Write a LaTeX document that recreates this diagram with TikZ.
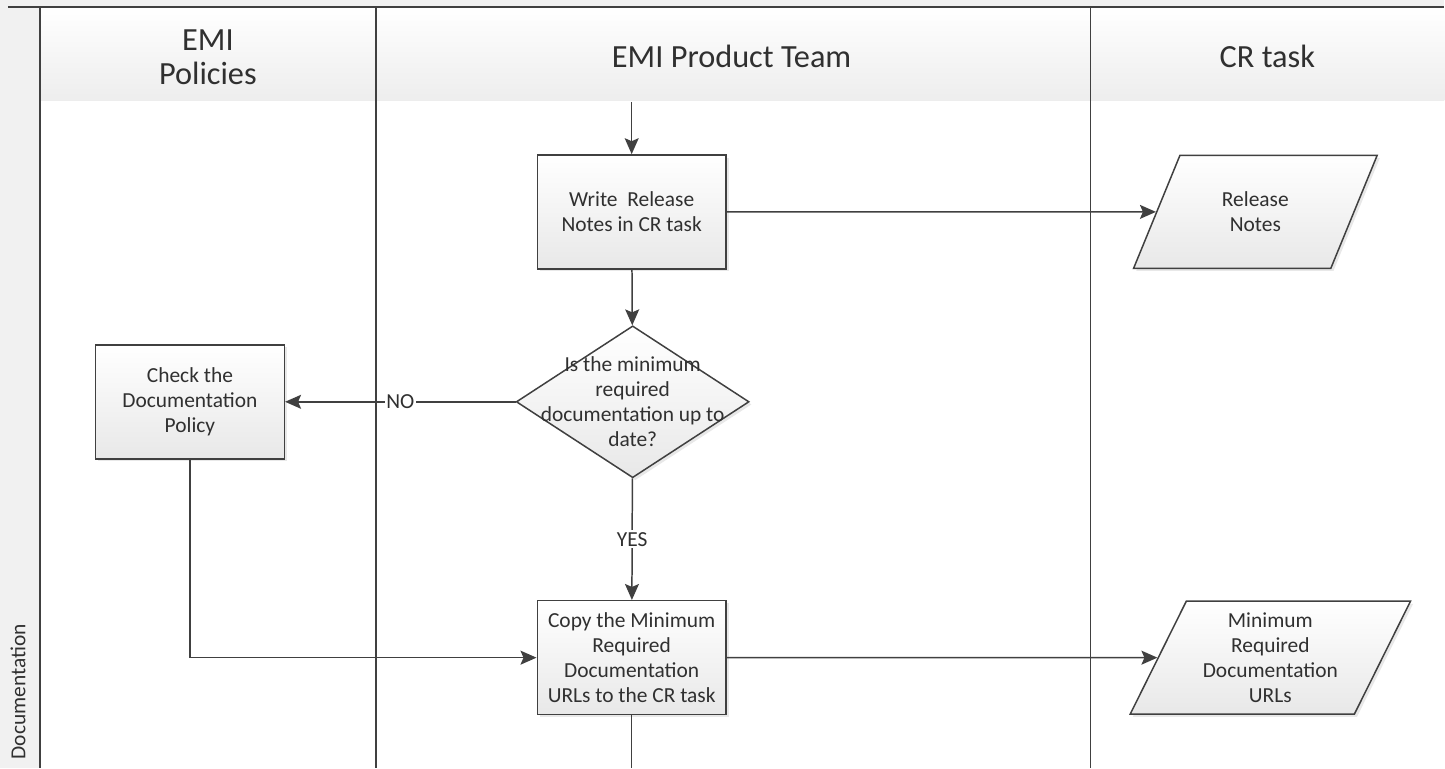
\documentclass[tikz,border=0pt]{standalone}
\usepackage{fontspec}
\setmainfont{Carlito}
\usetikzlibrary{shapes.geometric,arrows.meta,shadows}
\definecolor{linegray}{HTML}{404040}
\definecolor{textgray}{HTML}{303030}
\definecolor{lanegray}{HTML}{F1F1F1}
\newcommand{\boxfont}{\fontsize{12.2}{14.2}\selectfont}
\newcommand{\headfont}{\fontsize{18.4}{19.3}\selectfont}

\begin{document}
\begin{tikzpicture}[x=0.02cm,y=-0.02cm,line width=0.85pt,color=linegray,text=textgray,
    arr/.style={-{Stealth[length=0.32cm,width=0.28cm,inset=0.06cm]}},
    softshadow/.style={drop shadow={shadow xshift=1.5pt,shadow yshift=-1.5pt,opacity=0.18}},
    procbox/.style={draw,top color=white,bottom color=black!9,softshadow,
        minimum width=3.78cm,minimum height=2.28cm,inner sep=1pt,align=center,font=\boxfont},
    decbox/.style={draw,diamond,top color=white,bottom color=black!9,softshadow,
        minimum width=4.66cm,minimum height=3.04cm,inner sep=0pt},
    databox/.style={draw,trapezium,trapezium left angle=63.6,trapezium right angle=116.4,
        trapezium stretches=true,top color=white,bottom color=black!9,softshadow,
        minimum height=2.26cm,inner sep=1pt,align=center,font=\boxfont},
    lanehead/.style={align=center,font=\headfont},
    edgelabel/.style={fill=white,inner sep=1pt,font=\boxfont}]

    % pool and lanes
    \fill[lanegray] (0,0) rectangle (1445,7);
    \fill[lanegray] (0,7) rectangle (40,768);
    \shade[top color=white,bottom color=black!7] (40,7) rectangle (1445,101);
    \draw (8,7) -- (1445,7);
    \draw (40,7) -- (40,768);
    \draw (376,7) -- (376,768);
    \draw (1091,7) -- (1091,768);
    \node[rotate=90,font=\boxfont] (pool) at (18,692) {Documentation};
    \node[lanehead] (hpol) at (208,57) {EMI\\Policies};
    \node[lanehead] (hteam) at (732,56) {EMI Product Team};
    \node[lanehead] (hcr) at (1268,56) {CR task};

    % steps
    \coordinate (start) at (632,102);
    \coordinate (end) at (632,768);
    \node[procbox] (write) at (632,212) {Write~ Release\\Notes in CR task};
    \node[decbox,label={[align=center,font=\boxfont]center:Is the minimum\\required\\documentation up to\\date?}] (dec) at (633,402) {};
    \node[procbox] (check) at (190,402) {Check the\\Documentation\\Policy};
    \node[procbox] (copy) at (632,658) {Copy the Minimum\\Required\\Documentation\\URLs to the CR task};
    \node[databox,minimum width=4.9cm] (notes) at (1256,212) {Release\\Notes};
    \node[databox,minimum width=5.62cm] (urls) at (1271,658) {Minimum\\Required\\Documentation\\URLs};

    % flow
    \draw[arr] (start) -- (write);
    \draw[arr] (write) -- (notes);
    \draw[arr] (write) -- (dec);
    \draw[arr] (dec) -- (check) node[edgelabel,pos=0.5] {NO};
    \draw[arr] (dec) -- (copy) node[edgelabel,pos=0.5] {YES};
    \draw[arr] (check) |- (copy);
    \draw[arr] (copy) -- (urls);
    \draw (copy) -- (end);
\end{tikzpicture}
\end{document}
